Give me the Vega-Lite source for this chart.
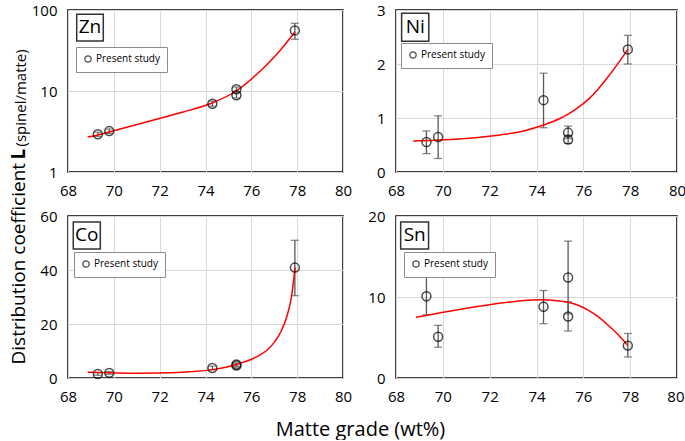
{
  "$schema": "https://vega.github.io/schema/vega-lite/v6.json",
  "padding": {"left": 8, "top": 2, "right": 0, "bottom": 0},
  "background": "white",
  "bounds": "flush",
  "columns": 2,
  "spacing": {"row": 44, "column": 53},
  "resolve": {"scale": {"stroke": "independent"}, "legend": {"stroke": "independent"}},
  "config": {
    "font": "Open Sans",
    "view": {"stroke": "black", "strokeWidth": 1.5},
    "axis": {
      "domain": false, "ticks": false, "grid": true, "gridColor": "#d9d9d9", "gridWidth": 1,
      "labelFont": "Open Sans", "labelFontSize": 15, "labelColor": "black", "labelPadding": 11,
      "labelFlush": false, "labelOverlap": false, "labelBound": false,
      "titleFont": "Open Sans", "titleFontSize": 20, "titleFontWeight": "normal", "titleColor": "black"
    },
    "legend": {
      "orient": "none", "title": null, "strokeColor": "#8c8c8c", "fillColor": "white", "padding": 7,
      "labelFont": "Open Sans", "labelFontSize": 10, "labelColor": "black", "symbolSize": 40,
      "symbolStrokeWidth": 1.3, "symbolType": "circle", "labelOffset": 3, "cornerRadius": 0
    }
  },
  "datasets": {
    "zn_pts": [
      {"x": 69.3, "y": 2.92, "lo": 2.75, "hi": 3.1, "series": "Present study"},
      {"x": 69.8, "y": 3.2, "lo": 3.0, "hi": 3.4, "series": "Present study"},
      {"x": 74.3, "y": 6.97, "lo": 6.5, "hi": 7.5, "series": "Present study"},
      {"x": 75.35, "y": 8.85, "lo": 8.2, "hi": 9.6, "series": "Present study"},
      {"x": 75.35, "y": 10.5, "lo": 9.8, "hi": 11.2, "series": "Present study"},
      {"x": 77.9, "y": 56, "lo": 43.5, "hi": 68.5, "series": "Present study"}
    ],
    "zn_fit": [
      {"x": 68.86, "y": 2.7}, {"x": 69.3, "y": 2.86}, {"x": 69.79, "y": 3.12}, {"x": 72.02, "y": 4.6},
      {"x": 73.03, "y": 5.5}, {"x": 74.29, "y": 7.11}, {"x": 75.34, "y": 10.0}, {"x": 76.24, "y": 16.1},
      {"x": 77.11, "y": 28.4}, {"x": 77.91, "y": 54}
    ],
    "ni_pts": [
      {"x": 69.3, "y": 0.556, "lo": 0.34, "hi": 0.76, "series": "Present study"},
      {"x": 69.8, "y": 0.648, "lo": 0.25, "hi": 1.04, "series": "Present study"},
      {"x": 74.3, "y": 1.33, "lo": 0.82, "hi": 1.83, "series": "Present study"},
      {"x": 75.35, "y": 0.73, "lo": 0.62, "hi": 0.85, "series": "Present study"},
      {"x": 75.35, "y": 0.6, "lo": 0.53, "hi": 0.68, "series": "Present study"},
      {"x": 77.9, "y": 2.27, "lo": 2.0, "hi": 2.53, "series": "Present study"}
    ],
    "ni_fit": [
      {"x": 68.74, "y": 0.575}, {"x": 69.5, "y": 0.585}, {"x": 70.5, "y": 0.605}, {"x": 71.5, "y": 0.64},
      {"x": 72.5, "y": 0.69}, {"x": 73.5, "y": 0.765}, {"x": 74.3, "y": 0.87}, {"x": 75.0, "y": 0.99},
      {"x": 75.35, "y": 1.07}, {"x": 75.8, "y": 1.2}, {"x": 76.2, "y": 1.34}, {"x": 76.6, "y": 1.52},
      {"x": 77.0, "y": 1.73}, {"x": 77.4, "y": 1.96}, {"x": 77.9, "y": 2.27}
    ],
    "co_pts": [
      {"x": 69.3, "y": 1.5, "lo": 1.0, "hi": 2.0, "series": "Present study"},
      {"x": 69.8, "y": 1.9, "lo": 1.4, "hi": 2.4, "series": "Present study"},
      {"x": 74.3, "y": 3.7, "lo": 3.0, "hi": 4.4, "series": "Present study"},
      {"x": 75.35, "y": 4.6, "lo": 4.0, "hi": 5.2, "series": "Present study"},
      {"x": 75.35, "y": 5.0, "lo": 4.4, "hi": 5.6, "series": "Present study"},
      {"x": 77.9, "y": 40.9, "lo": 30.5, "hi": 51, "series": "Present study"}
    ],
    "co_fit": [
      {"x": 68.86, "y": 2.1}, {"x": 69.8, "y": 1.95}, {"x": 71.0, "y": 1.8}, {"x": 72.0, "y": 1.85},
      {"x": 73.0, "y": 2.15}, {"x": 74.3, "y": 3.1}, {"x": 75.35, "y": 5.0}, {"x": 76.24, "y": 7.9},
      {"x": 76.68, "y": 10.3}, {"x": 77.0, "y": 13.2}, {"x": 77.3, "y": 17.3}, {"x": 77.55, "y": 22.8},
      {"x": 77.75, "y": 30}, {"x": 77.91, "y": 41}
    ],
    "sn_pts": [
      {"x": 69.3, "y": 10.1, "lo": 7.8, "hi": 12.5, "series": "Present study"},
      {"x": 69.8, "y": 5.1, "lo": 3.8, "hi": 6.5, "series": "Present study"},
      {"x": 74.3, "y": 8.8, "lo": 6.7, "hi": 10.8, "series": "Present study"},
      {"x": 75.35, "y": 12.4, "lo": 7.9, "hi": 16.9, "series": "Present study"},
      {"x": 75.35, "y": 7.6, "lo": 5.8, "hi": 9.4, "series": "Present study"},
      {"x": 77.9, "y": 4.0, "lo": 2.6, "hi": 5.5, "series": "Present study"}
    ],
    "sn_fit": [
      {"x": 68.85, "y": 7.5}, {"x": 69.8, "y": 8.0}, {"x": 70.88, "y": 8.55}, {"x": 72.0, "y": 9.05},
      {"x": 73.0, "y": 9.42}, {"x": 73.8, "y": 9.62}, {"x": 74.3, "y": 9.66}, {"x": 74.8, "y": 9.58},
      {"x": 75.35, "y": 9.35}, {"x": 75.8, "y": 8.95}, {"x": 76.2, "y": 8.38}, {"x": 76.6, "y": 7.65},
      {"x": 77.05, "y": 6.55}, {"x": 77.5, "y": 5.3}, {"x": 77.9, "y": 4.0}
    ],
    "zn_lab": [{"element": "Zn"}],
    "ni_lab": [{"element": "Ni"}],
    "co_lab": [{"element": "Co"}],
    "sn_lab": [{"element": "Sn"}]
  },
  "concat": [
    {
      "width": 275, "height": 162,
      "layer": [
        {
          "encoding": {
            "x": {"field": "x", "type": "quantitative", "scale": {"domain": [68, 80], "nice": false, "zero": false},
                  "axis": {"values": [68,69,70,71,72,73,74,75,76,77,78,79,80], "labelExpr": "datum.value % 2 == 0 ? datum.label : ''"}, "title": null},
            "y": {"field": "y", "type": "quantitative", "scale": {"type": "log", "domain": [1, 100], "nice": false},
                  "axis": {"values": [1, 10, 100], "format": "d", "titleX": -44, "titleY": 354, "titleAlign": "left", "titleBaseline": "alphabetic", "titleAngle": 270, "titleFontSize": 19},
                  "title": "Distribution coefficient"}
          },
          "layer": [
            {"data": {"name": "zn_pts"}, "mark": {"type": "errorbar", "ticks": {"size": 8}, "color": "#595959", "thickness": 1.3},
             "encoding": {"y": {"field": "lo", "type": "quantitative", "title": "Distribution coefficient"}, "y2": {"field": "hi"}}},
            {"data": {"name": "zn_fit"}, "mark": {"type": "line", "color": "#ff0000", "strokeWidth": 1.5, "interpolate": "monotone"}},
            {"data": {"name": "zn_pts"}, "mark": {"type": "point", "shape": "circle", "filled": false, "size": 80, "strokeWidth": 1.5},
             "encoding": {"stroke": {"field": "series", "type": "nominal", "scale": {"range": ["black"]}, "legend": {"legendX": 8, "legendY": 37}}}}
          ]
        },
        {"data": {"name": "zn_lab"}, "mark": {"type": "rect", "fill": "white", "stroke": "#333333", "strokeWidth": 1.5},
         "encoding": {"x": {"datum": 68.38}, "x2": {"datum": 69.54}, "y": {"datum": 41.4}, "y2": {"datum": 88.5}}},
        {"data": {"name": "zn_lab"}, "mark": {"type": "text", "fontSize": 19, "color": "black", "align": "center", "baseline": "middle"},
         "encoding": {"x": {"datum": 68.96}, "y": {"datum": 61}, "text": {"field": "element"}}}
      ]
    },
    {
      "width": 281, "height": 162,
      "layer": [
        {
          "encoding": {
            "x": {"field": "x", "type": "quantitative", "scale": {"domain": [68, 80], "nice": false, "zero": false},
                  "axis": {"values": [68,69,70,71,72,73,74,75,76,77,78,79,80], "labelExpr": "datum.value % 2 == 0 ? datum.label : ''"}, "title": null},
            "y": {"field": "y", "type": "quantitative", "scale": {"domain": [0, 3], "nice": false},
                  "axis": {"values": [0, 1, 2, 3], "format": "d"}, "title": null}
          },
          "layer": [
            {"data": {"name": "ni_pts"}, "mark": {"type": "errorbar", "ticks": {"size": 8}, "color": "#595959", "thickness": 1.3},
             "encoding": {"y": {"field": "lo", "type": "quantitative", "title": null}, "y2": {"field": "hi"}}},
            {"data": {"name": "ni_fit"}, "mark": {"type": "line", "color": "#ff0000", "strokeWidth": 1.5, "interpolate": "monotone"}},
            {"data": {"name": "ni_pts"}, "mark": {"type": "point", "shape": "circle", "filled": false, "size": 80, "strokeWidth": 1.5},
             "encoding": {"stroke": {"field": "series", "type": "nominal", "scale": {"range": ["black"]}, "legend": {"legendX": 5, "legendY": 33}}}}
          ]
        },
        {"data": {"name": "ni_lab"}, "mark": {"type": "rect", "fill": "white", "stroke": "#333333", "strokeWidth": 1.5},
         "encoding": {"x": {"datum": 68.24}, "x2": {"datum": 69.4}, "y": {"datum": 2.42}, "y2": {"datum": 2.94}}},
        {"data": {"name": "ni_lab"}, "mark": {"type": "text", "fontSize": 19, "color": "black", "align": "center", "baseline": "middle"},
         "encoding": {"x": {"datum": 68.82}, "y": {"datum": 2.68}, "text": {"field": "element"}}}
      ]
    },
    {
      "width": 275, "height": 162,
      "layer": [
        {
          "encoding": {
            "x": {"field": "x", "type": "quantitative", "scale": {"domain": [68, 80], "nice": false, "zero": false},
                  "axis": {"values": [68,69,70,71,72,73,74,75,76,77,78,79,80], "labelExpr": "datum.value % 2 == 0 ? datum.label : ''", "titleX": 292, "titleY": 57, "titleAlign": "center", "titleBaseline": "alphabetic", "titleFontSize": 20},
                  "title": "Matte grade (wt%)"},
            "y": {"field": "y", "type": "quantitative", "scale": {"domain": [0, 60], "nice": false},
                  "axis": {"values": [0, 20, 40, 60], "format": "d", "titleX": -44, "titleY": -57, "titleAlign": "left", "titleBaseline": "alphabetic", "titleAngle": 270, "titleFontSize": 19, "titleFontWeight": "bold"},
                  "title": "L"}
          },
          "layer": [
            {"data": {"name": "co_pts"}, "mark": {"type": "errorbar", "ticks": {"size": 8}, "color": "#595959", "thickness": 1.3},
             "encoding": {"y": {"field": "lo", "type": "quantitative", "title": "L"}, "y2": {"field": "hi"}}},
            {"data": {"name": "co_fit"}, "mark": {"type": "line", "color": "#ff0000", "strokeWidth": 1.5, "interpolate": "monotone"}},
            {"data": {"name": "co_pts"}, "mark": {"type": "point", "shape": "circle", "filled": false, "size": 80, "strokeWidth": 1.5},
             "encoding": {"stroke": {"field": "series", "type": "nominal", "scale": {"range": ["black"]}, "legend": {"legendX": 6, "legendY": 36}}}}
          ]
        },
        {"data": {"name": "co_lab"}, "mark": {"type": "rect", "fill": "white", "stroke": "#333333", "strokeWidth": 1.5},
         "encoding": {"x": {"datum": 68.23}, "x2": {"datum": 69.41}, "y": {"datum": 47.8}, "y2": {"datum": 57.8}}},
        {"data": {"name": "co_lab"}, "mark": {"type": "text", "fontSize": 19, "color": "black", "align": "center", "baseline": "middle"},
         "encoding": {"x": {"datum": 68.82}, "y": {"datum": 52.8}, "text": {"field": "element"}}}
      ]
    },
    {
      "width": 281, "height": 162,
      "layer": [
        {
          "encoding": {
            "x": {"field": "x", "type": "quantitative", "scale": {"domain": [68, 80], "nice": false, "zero": false},
                  "axis": {"values": [68,69,70,71,72,73,74,75,76,77,78,79,80], "labelExpr": "datum.value % 2 == 0 ? datum.label : ''",
                           "labelAlign": {"condition": {"test": "datum.value >= 80", "value": "right"}, "value": "center"},
                           "labelOffset": {"condition": {"test": "datum.value >= 80", "value": 7}, "value": 0}}, "title": null},
            "y": {"field": "y", "type": "quantitative", "scale": {"domain": [0, 20], "nice": false},
                  "axis": {"values": [0, 10, 20], "format": "d", "titleX": -371, "titleY": -70, "titleAlign": "left", "titleBaseline": "alphabetic", "titleAngle": 270, "titleFontSize": 15},
                  "title": "(spinel/matte)"}
          },
          "layer": [
            {"data": {"name": "sn_pts"}, "mark": {"type": "errorbar", "ticks": {"size": 8}, "color": "#595959", "thickness": 1.3},
             "encoding": {"y": {"field": "lo", "type": "quantitative", "title": "(spinel/matte)"}, "y2": {"field": "hi"}}},
            {"data": {"name": "sn_fit"}, "mark": {"type": "line", "color": "#ff0000", "strokeWidth": 1.5, "interpolate": "monotone"}},
            {"data": {"name": "sn_pts"}, "mark": {"type": "point", "shape": "circle", "filled": false, "size": 80, "strokeWidth": 1.5},
             "encoding": {"stroke": {"field": "series", "type": "nominal", "scale": {"range": ["black"]}, "legend": {"legendX": 8, "legendY": 36}}}}
          ]
        },
        {"data": {"name": "sn_lab"}, "mark": {"type": "rect", "fill": "white", "stroke": "#333333", "strokeWidth": 1.5},
         "encoding": {"x": {"datum": 68.2}, "x2": {"datum": 69.39}, "y": {"datum": 15.93}, "y2": {"datum": 19.26}}},
        {"data": {"name": "sn_lab"}, "mark": {"type": "text", "fontSize": 19, "color": "black", "align": "center", "baseline": "middle"},
         "encoding": {"x": {"datum": 68.8}, "y": {"datum": 17.6}, "text": {"field": "element"}}}
      ]
    }
  ]
}
